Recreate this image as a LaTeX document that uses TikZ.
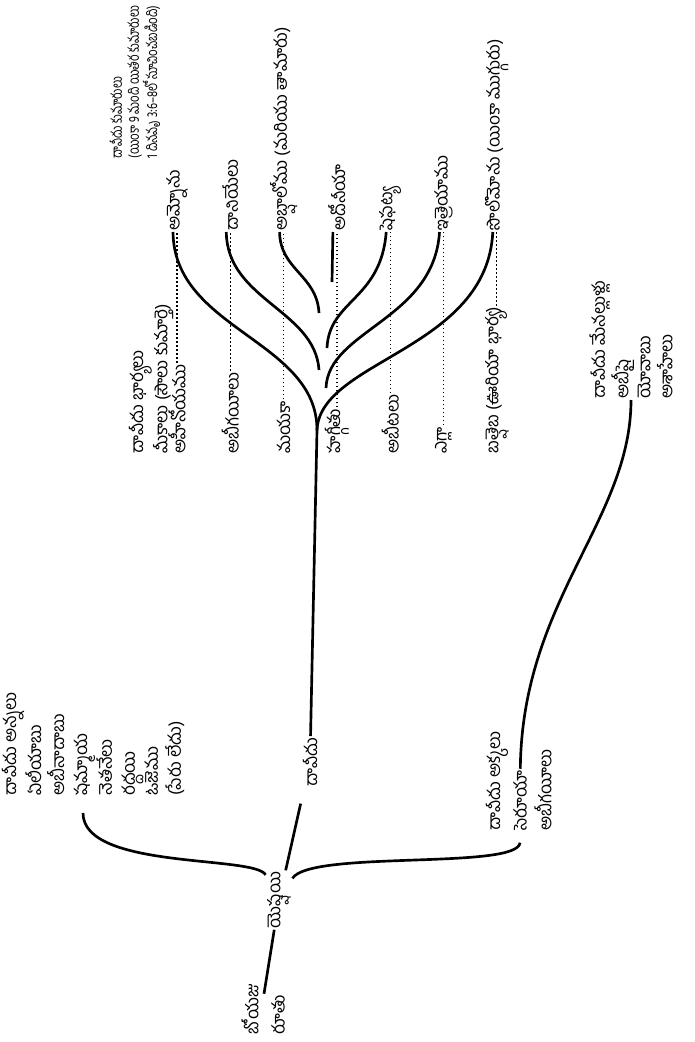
\documentclass[tikz,border=0pt]{standalone}
\usepackage{fontspec}
\setmainfont[Script=Telugu]{Hind Guntur}
\newfontfamily\narrowfont[Script=Telugu, FakeStretch=0.78]{Hind Guntur}
\usetikzlibrary{calc}
\begin{document}
\begin{tikzpicture}[x=0.75pt,y=-0.75pt]
\tikzset{person/.style={rotate=90, inner sep=1pt, font=\fontsize{13}{17.25}\selectfont},
  item/.style={person, anchor=west},
  group/.style={item, align=left},
  title/.style={group, font=\narrowfont\fontsize{11}{12.75}\selectfont},
  stem/.style={line width=2pt},
  tie/.style={dotted, line width=1pt}}
\useasboundingbox (0,0) rectangle (695,1042);

\node[title] (sonhead) at (135,160) {దావీదు కుమారులు\\(యింకా 9 మంది యితర కుమారులు\\1 దినవృ 3:6–8లో సూచించబడింది)};
\node[group, font=\fontsize{13}{12.75}\selectfont] (wifehead) at (151,455) {దావీదు భార్యలు\\మీకాలు (సౌలు కుమార్తె)};
\foreach \s [count=\i from 0] in {అమ్నోను, దానియేలు, అబ్షాలోము (మరియు తామారు), అదోనీయా, షెఫట్య, ఇత్రెయాము, సొలొమోను (యింకా ముగ్గురు)}
  \node[item] (son\i) at ({177+53.3*\i},232) {\s};
\foreach \w [count=\i from 0] in {అహీనోయము, అబీగయీలు, మయకా, హగ్గీతు, అబీటలు, ఎగ్లా, బత్షెబ (ఊరియా భార్య)}
  \node[item] (wife\i) at ({177+53.3*\i},455) {\w};
\foreach \i in {0,...,6}
  \draw[tie] (wife\i) -- (son\i);

\node[person] (david) at (310,762) {దావీదు};
\coordinate (fork) at (317,430);
\coordinate (tip1) at (319,370);
\coordinate (tip2) at (319,313);
\coordinate (tip3) at (332,282);
\coordinate (tip4) at (327,348);
\coordinate (tip5) at (326,388);
\draw[stem] (david) -- (fork);
\draw[stem] (fork) .. controls (317,340) and (174,330) .. ([xshift=-3pt]son0.west);
\draw[stem] (tip1) .. controls (315,310) and (227,300) .. ([xshift=-3pt]son1.west);
\draw[stem] (tip2) .. controls (317,275) and (280,270) .. ([xshift=-3pt]son2.west);
\draw[stem] (tip3) -- ([xshift=-3pt]son3.west);
\draw[stem] (tip4) .. controls (329,300) and (381,300) .. ([xshift=-3pt]son4.west);
\draw[stem] (tip5) .. controls (328,330) and (434,320) .. ([xshift=-3pt]son5.west);
\draw[stem] (fork) .. controls (320,360) and (487,350) .. ([xshift=-3pt]son6.west);

\node[person] (jesse) at (279,900) {యెష్షయి};
\node[item] (boaz) at (250,1036) {బోయజు};
\node[item] (ruth) at (278,1036) {రూతు};
\coordinate (root) at ($(ruth.east)!.5!(boaz.east |- ruth.east)$);
\draw[stem] (root) -- (jesse);
\draw[stem, shorten >=12pt] (jesse) -- (david);

\node[group] (bros) at (93,797) {దావీదు అన్నలు\\ఏలీయాబు\\అబీనాదాబు\\షమ్మాయ\\నెతనేలు\\రద్దయి\\ఓజెము\\(పేరు లేదు)};
\draw[stem] (jesse) .. controls (255,855) and (83,870) .. ([shift={(-10,16)}]bros.west);

\node[item] (sishead) at (497,832) {దావీదు అక్కలు};
\node[item] (zer) at (520,832) {సెరూయా};
\node[item] (abig) at (543,832) {అబీగయీలు};
\draw[stem] (jesse) .. controls (310,850) and (518,870) .. ([yshift=-8pt]zer.west);

\node[group, font=\fontsize{13}{16.5}\selectfont] (nephs) at (631,400) {దావీదు మేనల్లుళ్లు\\అబీషై\\యోవాబు\\అశాహేలు};
\draw[stem] (zer) .. controls (522,600) and (631,520) .. (nephs.west);
\end{tikzpicture}
\end{document}
